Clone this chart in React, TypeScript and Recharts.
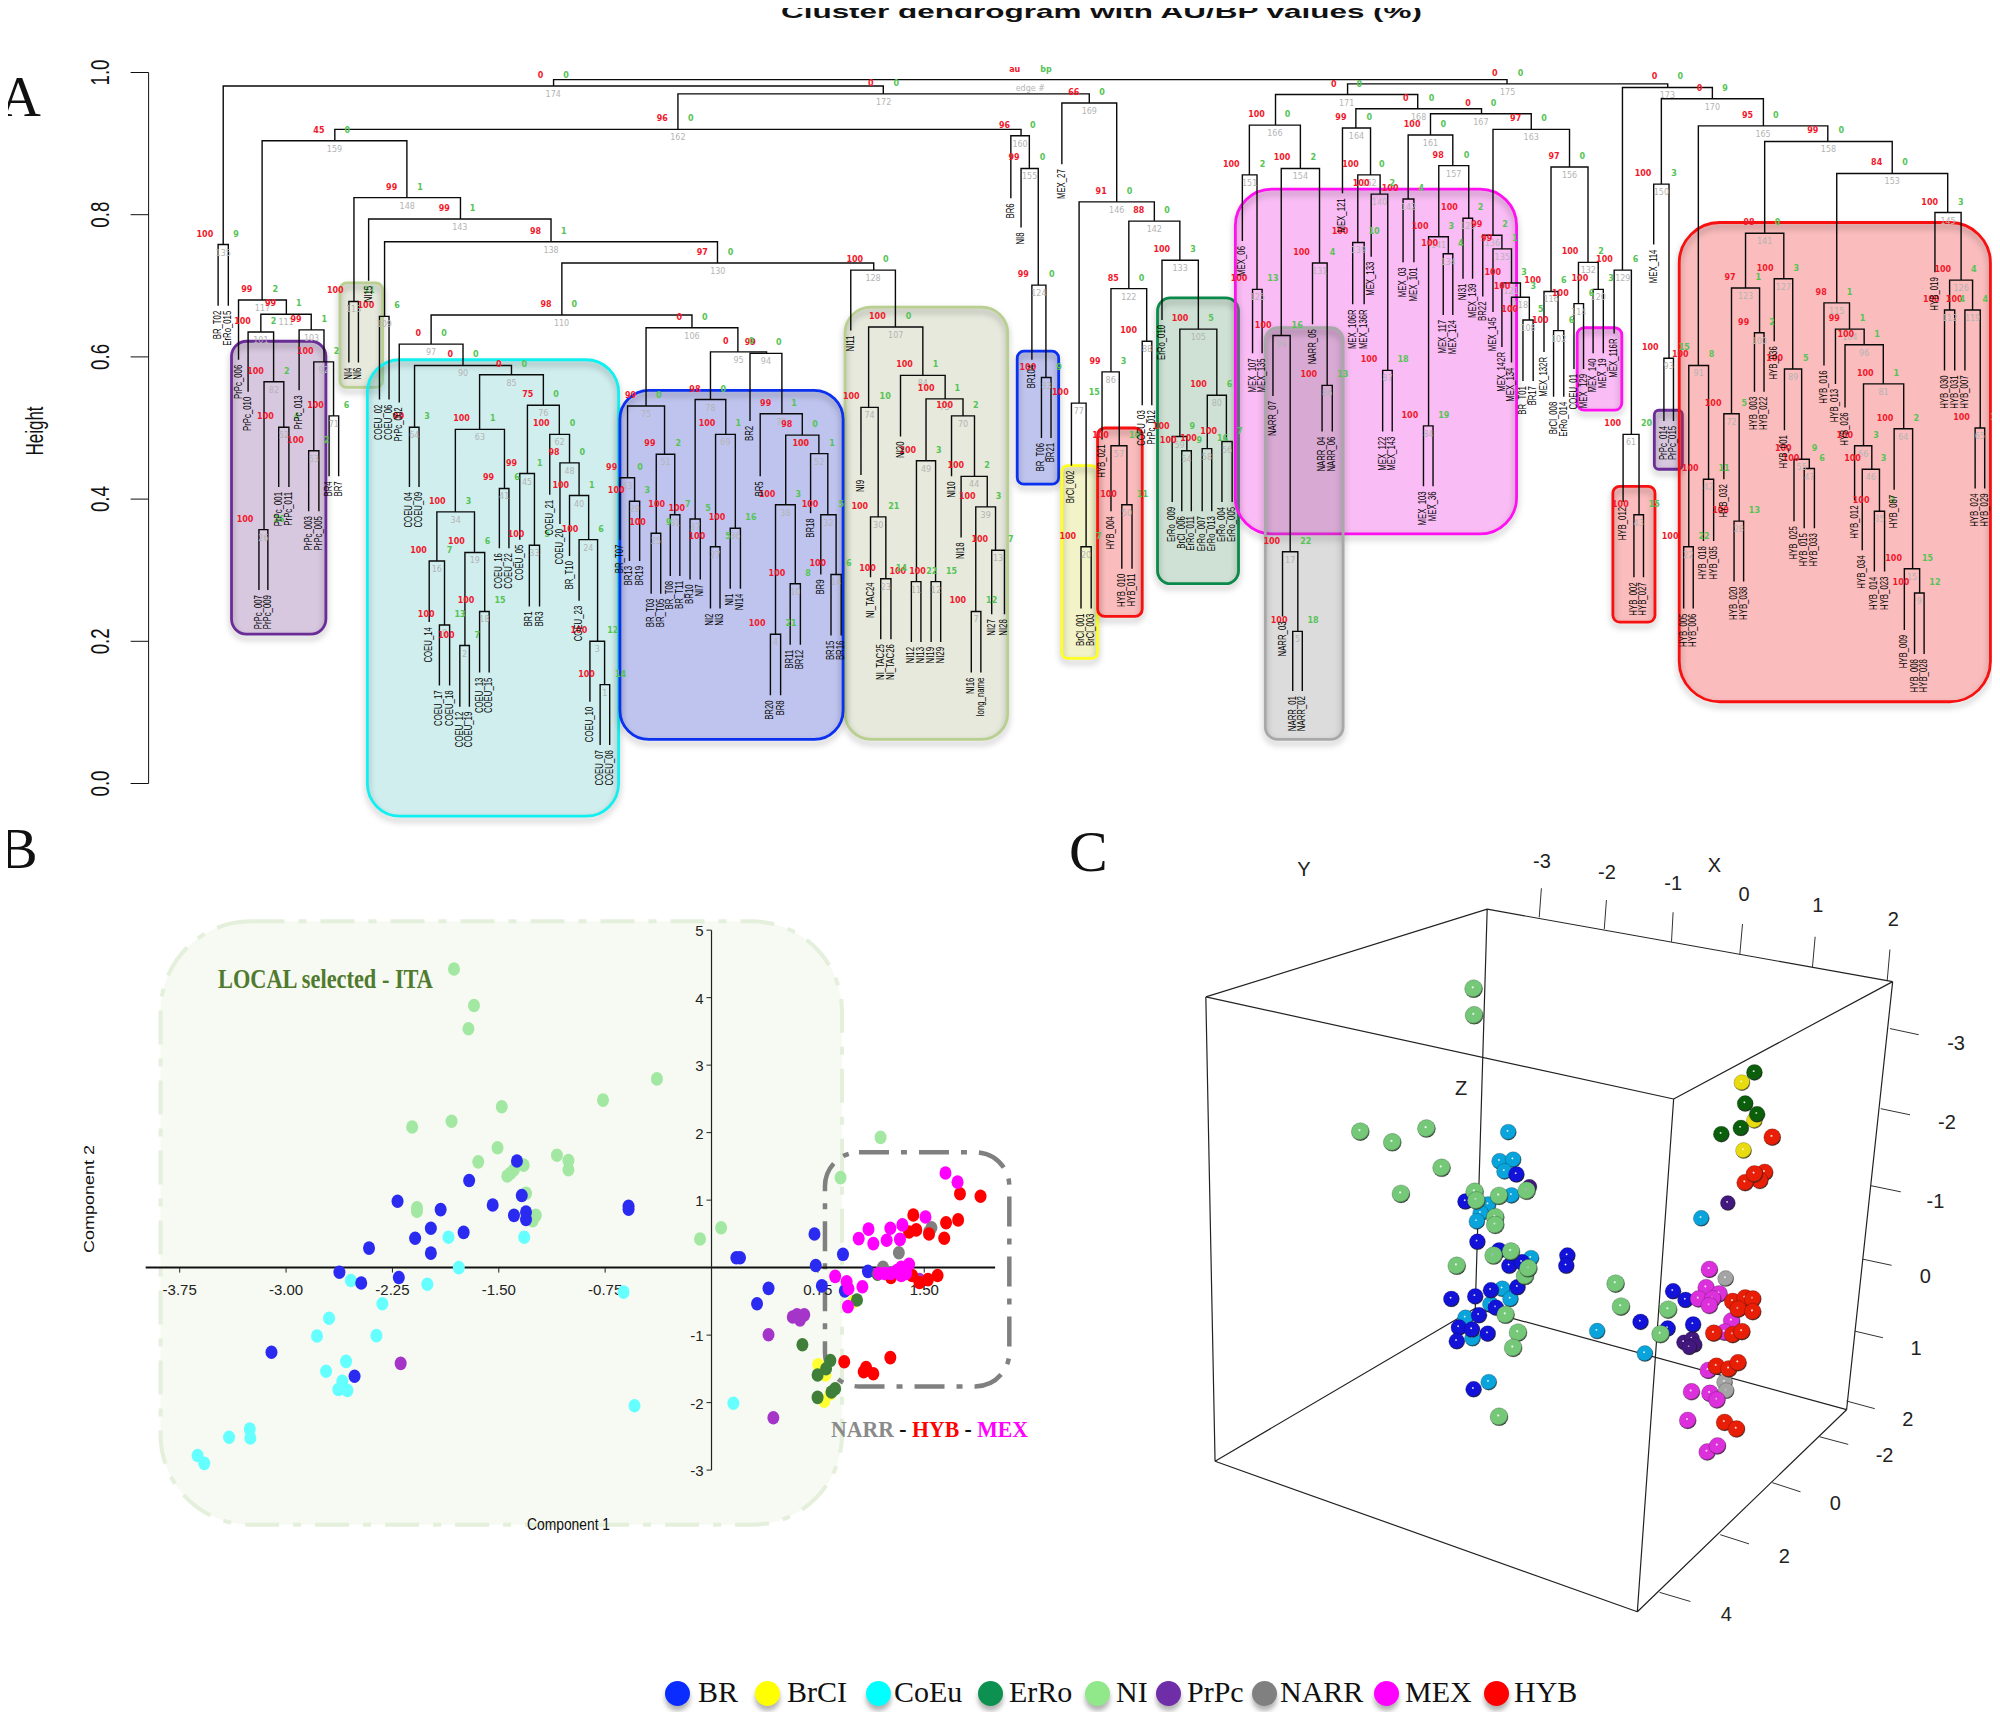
import {
  ComposedChart,
  Line,
  ReferenceArea,
  Scatter,
  XAxis,
  YAxis,
} from "recharts";

// [left, right, height, left leg end, right leg end, au, bp, edge]
type Merge = [number, number, number, number, number, number | string, number | string, number | string];

const trunkMerges: Merge[] = [
  [868, 2363, 0.99, 0.981, 0.984, "au", "bp", "edge #"],
  [2113, 2615, 0.984, 0.969, 0.979, 0, 0, 175],
  [350, 1385, 0.981, 0.758, 0.97, 0, 0, 174],
  [1063, 1708, 0.97, 0.92, 0.957, 0, 0, 172],
  [525, 1601, 0.92, 0.904, 0.911, 96, 0, 162],
  [411, 638, 0.904, 0.68, 0.824, 45, 0, 159],
  [342, 358, 0.758, 0.672, 0.672, 100, 9, 135],
  [555, 722, 0.824, 0.678, 0.794, 99, 1, 148],
  [578, 864, 0.794, 0.707, 0.762, 99, 1, 143],
  [603, 1125, 0.762, 0.657, 0.732, 98, 1, 138],
  [881, 1370, 0.732, 0.659, 0.722, 97, 0, 130],
  [676, 1085, 0.659, 0.618, 0.641, 98, 0, 110],
  [547, 562, 0.678, 0.592, 0.592, 100, 11, 113],
  [595, 610, 0.657, 0.54, 0.54, 100, 6, 109],
];

const prpcMerges: Merge[] = [
  [374, 449, 0.68, 0.596, 0.66, 99, 2, 117],
  [409, 488, 0.66, 0.635, 0.638, 99, 1, 111],
  [389, 429, 0.635, 0.551, 0.565, 100, 2, 101],
  [414, 445, 0.565, 0.357, 0.501, 100, 2, 82],
  [406, 420, 0.357, 0.272, 0.272, 100, 26, 26],
  [437, 453, 0.501, 0.417, 0.417, 100, 4, 52],
  [469, 508, 0.638, 0.553, 0.593, 99, 1, 103],
  [492, 523, 0.593, 0.468, 0.517, 100, 2, 92],
  [484, 500, 0.468, 0.383, 0.383, 100, 2, 53],
  [516, 531, 0.517, 0.432, 0.432, 100, 6, 71],
];

const coeuMerges: Merge[] = [
  [626, 726, 0.618, 0.536, 0.588, 0, 0, 97],
  [650, 802, 0.588, 0.501, 0.575, 0, 0, 90],
  [642, 657, 0.501, 0.417, 0.417, 99, 3, 64],
  [752, 852, 0.575, 0.498, 0.532, 0, 0, 85],
  [714, 791, 0.498, 0.382, 0.415, 100, 1, 63],
  [685, 744, 0.382, 0.313, 0.325, 100, 3, 34],
  [673, 697, 0.313, 0.227, 0.223, 100, 7, 16],
  [689, 705, 0.223, 0.138, 0.138, 100, 13, 8],
  [729, 760, 0.325, 0.194, 0.242, 100, 6, 19],
  [721, 736, 0.194, 0.108, 0.108, 100, 7, 2],
  [752, 767, 0.242, 0.156, 0.156, 100, 15, 18],
  [783, 798, 0.415, 0.331, 0.331, 99, 6, 41],
  [827, 877, 0.532, 0.436, 0.491, 75, 0, 76],
  [815, 838, 0.436, 0.343, 0.335, 99, 1, 45],
  [830, 846, 0.335, 0.249, 0.249, 100, 5, 33],
  [862, 893, 0.491, 0.406, 0.451, 100, 0, 62],
  [878, 908, 0.451, 0.365, 0.405, 98, 0, 48],
  [893, 923, 0.405, 0.32, 0.343, 100, 1, 40],
  [908, 937, 0.343, 0.257, 0.2, 100, 6, 24],
  [925, 948, 0.2, 0.115, 0.139, 100, 12, 3],
  [941, 956, 0.139, 0.054, 0.054, 100, 14, 1],
];

const brMerges: Merge[] = [
  [1013, 1157, 0.641, 0.531, 0.607, 0, 0, 106],
  [984, 1042, 0.531, 0.43, 0.463, 99, 0, 75],
  [972, 995, 0.43, 0.343, 0.397, 99, 0, 43],
  [987, 1003, 0.397, 0.313, 0.313, 100, 3, 29],
  [1029, 1058, 0.463, 0.352, 0.378, 99, 2, 51],
  [1021, 1036, 0.352, 0.267, 0.267, 100, 9, 25],
  [1051, 1066, 0.378, 0.292, 0.292, 100, 7, 31],
  [1114, 1202, 0.607, 0.54, 0.605, 0, 0, 95],
  [1176, 1226, 0.605, 0.51, 0.52, 99, 0, 94],
  [1090, 1138, 0.54, 0.372, 0.491, 98, 0, 78],
  [1082, 1098, 0.372, 0.287, 0.287, 100, 5, 37],
  [1122, 1153, 0.491, 0.333, 0.359, 100, 1, 69],
  [1114, 1129, 0.333, 0.246, 0.246, 100, 5, 27],
  [1145, 1161, 0.359, 0.274, 0.274, 100, 16, 36],
  [1192, 1258, 0.52, 0.432, 0.49, 99, 1, 79],
  [1232, 1284, 0.49, 0.392, 0.464, 98, 0, 68],
  [1271, 1298, 0.464, 0.38, 0.378, 100, 1, 52],
  [1287, 1311, 0.378, 0.294, 0.294, 100, 5, 32],
  [1303, 1319, 0.294, 0.208, 0.208, 100, 6, 14],
  [1216, 1247, 0.392, 0.21, 0.281, 100, 3, 38],
  [1208, 1224, 0.21, 0.124, 0.124, 100, 21, 4],
  [1239, 1255, 0.281, 0.195, 0.195, 100, 8, 10],
];

const niMerges: Merge[] = [
  [1334, 1404, 0.722, 0.637, 0.642, 100, 0, 128],
  [1362, 1447, 0.642, 0.529, 0.574, 100, 0, 107],
  [1350, 1377, 0.529, 0.434, 0.375, 100, 10, 74],
  [1365, 1389, 0.375, 0.29, 0.288, 100, 21, 30],
  [1381, 1397, 0.288, 0.203, 0.203, 100, 14, 23],
  [1412, 1482, 0.574, 0.488, 0.541, 100, 1, 84],
  [1452, 1510, 0.541, 0.454, 0.517, 100, 1, 73],
  [1437, 1467, 0.454, 0.284, 0.284, 100, 3, 49],
  [1429, 1444, 0.284, 0.199, 0.199, 100, 22, 11],
  [1460, 1475, 0.284, 0.199, 0.199, 100, 15, 12],
  [1492, 1528, 0.517, 0.432, 0.432, 100, 2, 70],
  [1507, 1548, 0.432, 0.346, 0.389, 100, 2, 44],
  [1530, 1561, 0.389, 0.242, 0.328, 100, 3, 39],
  [1523, 1538, 0.242, 0.156, 0.156, 100, 12, 7],
  [1555, 1575, 0.328, 0.238, 0.238, 100, 7, 13],
];

const midMerges: Merge[] = [
  [1585, 1614, 0.911, 0.823, 0.865, 96, 0, 160],
  [1601, 1628, 0.865, 0.782, 0.701, 99, 0, 155],
  [1618, 1640, 0.701, 0.596, 0.571, 99, 0, 124],
  [1633, 1648, 0.571, 0.486, 0.486, 100, 9, 83],
  [1665, 1751, 0.957, 0.871, 0.818, 66, 0, 169],
  [1692, 1810, 0.818, 0.535, 0.791, 91, 0, 146],
  [1770, 1850, 0.791, 0.696, 0.736, 88, 0, 142],
  [1742, 1798, 0.696, 0.579, 0.622, 85, 0, 122],
  [1728, 1755, 0.579, 0.484, 0.475, 99, 3, 86],
  [1742, 1767, 0.475, 0.383, 0.392, 100, 10, 57],
  [1759, 1775, 0.392, 0.302, 0.302, 100, 11, 50],
  [1791, 1806, 0.622, 0.532, 0.532, 100, 4, 88],
  [1680, 1703, 0.535, 0.447, 0.333, 100, 15, 77],
  [1695, 1711, 0.333, 0.246, 0.246, 100, 7, 20],
  [1822, 1879, 0.736, 0.652, 0.639, 100, 3, 133],
  [1850, 1908, 0.639, 0.488, 0.546, 100, 5, 105],
  [1838, 1861, 0.488, 0.396, 0.468, 100, 9, 59],
  [1853, 1868, 0.468, 0.383, 0.383, 100, 9, 54],
  [1893, 1923, 0.546, 0.471, 0.481, 100, 6, 80],
  [1885, 1900, 0.471, 0.383, 0.383, 100, 16, 58],
  [1916, 1932, 0.481, 0.396, 0.396, 100, 7, 56],
];

const mexMerges: Merge[] = [
  [2000, 2223, 0.969, 0.926, 0.949, 0, 0, 171],
  [1959, 2039, 0.926, 0.856, 0.865, 100, 0, 166],
  [1948, 1971, 0.856, 0.763, 0.695, 100, 2, 151],
  [1964, 1979, 0.695, 0.605, 0.605, 100, 13, 125],
  [2009, 2069, 0.865, 0.63, 0.732, 100, 2, 154],
  [1996, 2023, 0.63, 0.545, 0.326, 100, 16, 99],
  [2011, 2035, 0.326, 0.235, 0.214, 100, 22, 17],
  [2027, 2042, 0.214, 0.13, 0.13, 100, 18, 5],
  [2058, 2081, 0.732, 0.646, 0.56, 100, 4, 131],
  [2073, 2089, 0.56, 0.495, 0.495, 100, 13, 86],
  [2126, 2323, 0.949, 0.922, 0.942, 0, 0, 168],
  [2105, 2149, 0.922, 0.83, 0.856, 99, 0, 164],
  [2129, 2164, 0.856, 0.761, 0.829, 100, 0, 152],
  [2121, 2139, 0.761, 0.674, 0.674, 100, 10, 139],
  [2150, 2176, 0.829, 0.741, 0.581, 100, 2, 140],
  [2168, 2183, 0.581, 0.495, 0.495, 100, 18, 87],
  [2243, 2401, 0.942, 0.912, 0.92, 0, 0, 167],
  [2341, 2461, 0.92, 0.771, 0.867, 97, 0, 163],
  [2208, 2278, 0.912, 0.822, 0.869, 100, 0, 161],
  [2200, 2217, 0.822, 0.733, 0.733, 100, 4, 142],
  [2256, 2303, 0.869, 0.769, 0.795, 98, 0, 157],
  [2240, 2271, 0.769, 0.503, 0.745, 100, 3, 141],
  [2232, 2247, 0.503, 0.418, 0.418, 100, 19, 84],
  [2263, 2278, 0.745, 0.659, 0.659, 100, 4, 134],
  [2294, 2309, 0.795, 0.71, 0.71, 100, 2, 129],
  [2325, 2355, 0.771, 0.685, 0.752, 99, 2, 136],
  [2341, 2370, 0.752, 0.663, 0.704, 99, 1, 135],
  [2355, 2384, 0.704, 0.614, 0.684, 100, 3, 121],
  [2370, 2398, 0.684, 0.592, 0.652, 100, 3, 118],
  [2388, 2404, 0.652, 0.566, 0.566, 100, 5, 108],
  [2432, 2490, 0.867, 0.692, 0.733, 97, 0, 156],
  [2421, 2443, 0.692, 0.607, 0.637, 100, 6, 116],
  [2436, 2452, 0.637, 0.544, 0.544, 100, 6, 102],
  [2475, 2506, 0.733, 0.675, 0.695, 100, 2, 132],
  [2468, 2483, 0.675, 0.583, 0.583, 100, 6, 114],
  [2498, 2514, 0.695, 0.605, 0.605, 100, 3, 120],
];

const hybMerges: Merge[] = [
  [2544, 2685, 0.979, 0.722, 0.963, 0, 0, 173],
  [2531, 2558, 0.722, 0.633, 0.491, 100, 6, 129],
  [2545, 2570, 0.491, 0.396, 0.378, 100, 20, 61],
  [2562, 2577, 0.378, 0.29, 0.29, 100, 15, 43],
  [2605, 2765, 0.963, 0.843, 0.925, 0, 9, 170],
  [2593, 2617, 0.843, 0.758, 0.598, 100, 3, 150],
  [2609, 2624, 0.598, 0.51, 0.51, 100, 15, 93],
  [2663, 2866, 0.925, 0.588, 0.903, 95, 0, 165],
  [2767, 2967, 0.903, 0.774, 0.858, 99, 0, 158],
  [2880, 3054, 0.858, 0.676, 0.803, 84, 0, 153],
  [2737, 2797, 0.774, 0.697, 0.71, 98, 0, 141],
  [2715, 2759, 0.697, 0.52, 0.634, 97, 1, 123],
  [2703, 2727, 0.52, 0.428, 0.369, 100, 5, 72],
  [2719, 2734, 0.369, 0.284, 0.284, 100, 13, 28],
  [2751, 2766, 0.634, 0.551, 0.551, 99, 2, 100],
  [2782, 2811, 0.71, 0.622, 0.583, 100, 3, 127],
  [2798, 2825, 0.583, 0.497, 0.456, 100, 5, 89],
  [2813, 2837, 0.456, 0.369, 0.443, 100, 9, 55],
  [2829, 2845, 0.443, 0.359, 0.359, 100, 6, 47],
  [2648, 2679, 0.588, 0.333, 0.428, 100, 8, 91],
  [2640, 2655, 0.333, 0.246, 0.246, 100, 22, 22],
  [2671, 2687, 0.428, 0.341, 0.341, 100, 11, 42],
  [2860, 2900, 0.676, 0.588, 0.639, 98, 1, 115],
  [2878, 2923, 0.639, 0.562, 0.617, 99, 1, 104],
  [2893, 2953, 0.617, 0.529, 0.562, 100, 1, 96],
  [2922, 2985, 0.562, 0.475, 0.499, 100, 1, 81],
  [2908, 2935, 0.475, 0.398, 0.442, 100, 3, 66],
  [2920, 2947, 0.442, 0.328, 0.383, 100, 3, 46],
  [2939, 2955, 0.383, 0.298, 0.298, 100, 3, 35],
  [2970, 2999, 0.499, 0.413, 0.302, 100, 2, 64],
  [2986, 3010, 0.302, 0.216, 0.268, 100, 15, 15],
  [3002, 3017, 0.268, 0.182, 0.182, 100, 12, 9],
  [3034, 3075, 0.803, 0.719, 0.708, 100, 3, 145],
  [3057, 3093, 0.708, 0.666, 0.666, 100, 4, 126],
  [3049, 3065, 0.666, 0.581, 0.581, 100, 4, 112],
  [3081, 3105, 0.666, 0.581, 0.5, 100, 4, 119],
  [3097, 3112, 0.5, 0.415, 0.415, 100, 11, 65],
];

const leafLabels: [number, number, string][] = [
  [342, 0.672, "BR_T02"], [358, 0.672, "ErRo_015"], [374, 0.596, "PrPc_006"], [389, 0.551, "PrPc_010"],
  [406, 0.272, "PrPc_007"], [420, 0.272, "PrPc_009"], [437, 0.417, "PrPc_001"], [453, 0.417, "PrPc_011"],
  [469, 0.553, "PrPc_013"], [484, 0.383, "PrPc_003"], [500, 0.383, "PrPc_005"], [516, 0.432, "BR4"],
  [531, 0.432, "BR7"], [547, 0.592, "NI4"], [562, 0.592, "NI6"], [578, 0.707, "NI15"],
  [595, 0.54, "COEU_02"], [610, 0.54, "COEU_06"], [626, 0.536, "PrPc_002"], [642, 0.417, "COEU_04"],
  [657, 0.417, "COEU_09"], [673, 0.227, "COEU_14"], [689, 0.138, "COEU_17"], [705, 0.138, "COEU_18"],
  [721, 0.108, "COEU_12"], [736, 0.108, "COEU_19"], [752, 0.156, "COEU_13"], [767, 0.156, "COEU_15"],
  [783, 0.331, "COEU_16"], [798, 0.331, "COEU_22"], [815, 0.343, "COEU_05"], [830, 0.249, "BR1"],
  [846, 0.249, "BR3"], [862, 0.406, "COEU_21"], [878, 0.365, "COEU_20"], [893, 0.32, "BR_T10"],
  [908, 0.257, "COEU_23"], [925, 0.115, "COEU_10"], [941, 0.054, "COEU_07"], [956, 0.054, "COEU_08"],
  [972, 0.343, "BR_T07"], [987, 0.313, "BR13"], [1003, 0.313, "BR19"], [1021, 0.267, "BR_T03"],
  [1036, 0.267, "BR_T05"], [1051, 0.292, "BR_T08"], [1066, 0.292, "BR_T11"], [1082, 0.287, "BR10"],
  [1098, 0.287, "NI7"], [1114, 0.246, "NI2"], [1129, 0.246, "NI3"], [1145, 0.274, "NI1"],
  [1161, 0.274, "NI14"], [1176, 0.51, "BR2"], [1192, 0.432, "BR5"], [1208, 0.124, "BR20"],
  [1224, 0.124, "BR8"], [1239, 0.195, "BR11"], [1255, 0.195, "BR12"], [1271, 0.38, "BR18"],
  [1287, 0.294, "BR9"], [1303, 0.208, "BR15"], [1319, 0.208, "BR16"], [1334, 0.637, "NI11"],
  [1350, 0.434, "NI9"], [1365, 0.29, "NI_TAC24"], [1381, 0.203, "NI_TAC25"], [1397, 0.203, "NI_TAC26"],
  [1412, 0.488, "NI20"], [1429, 0.199, "NI12"], [1444, 0.199, "NI13"], [1460, 0.199, "NI19"],
  [1475, 0.199, "NI29"], [1492, 0.432, "NI10"], [1507, 0.346, "NI18"], [1523, 0.156, "NI16"],
  [1538, 0.156, "long_name"], [1555, 0.238, "NI27"], [1575, 0.238, "NI28"], [1585, 0.823, "BR6"],
  [1601, 0.782, "NI8"], [1618, 0.596, "BR104"], [1633, 0.486, "BR_T06"], [1648, 0.486, "BR21"],
  [1665, 0.871, "MEX_27"], [1680, 0.447, "BrCl_002"], [1695, 0.246, "BrCl_001"], [1711, 0.246, "BrCl_003"],
  [1728, 0.484, "HYB_021"], [1742, 0.383, "HYB_004"], [1759, 0.302, "HYB_010"], [1775, 0.302, "HYB_011"],
  [1791, 0.532, "COEU_03"], [1806, 0.532, "PrPc_012"], [1822, 0.652, "ErRo_010"], [1838, 0.396, "ErRo_009"],
  [1853, 0.383, "BrCl_006"], [1868, 0.383, "ErRo_011"], [1885, 0.383, "ErRo_007"], [1900, 0.383, "ErRo_013"],
  [1916, 0.396, "ErRo_004"], [1932, 0.396, "ErRo_005"], [1948, 0.763, "MEX_06"], [1964, 0.605, "MEX_107"],
  [1979, 0.605, "MEX_135"], [1996, 0.545, "NARR_07"], [2011, 0.235, "NARR_03"], [2027, 0.13, "NARR_01"],
  [2042, 0.13, "NARR_02"], [2058, 0.646, "NARR_05"], [2073, 0.495, "NARR_04"], [2089, 0.495, "NARR_06"],
  [2105, 0.83, "MEX_121"], [2121, 0.674, "MEX_106R"], [2139, 0.674, "MEX_136R"], [2150, 0.741, "MEX_133"],
  [2168, 0.495, "MEX_122"], [2183, 0.495, "MEX_143"], [2200, 0.733, "MEX_03"], [2217, 0.733, "MEX_101"],
  [2232, 0.418, "MEX_103"], [2247, 0.418, "MEX_36"], [2263, 0.659, "MEX_117"], [2278, 0.659, "MEX_124"],
  [2294, 0.71, "NI31"], [2309, 0.71, "MEX_139"], [2325, 0.685, "BR22"], [2341, 0.663, "MEX_145"],
  [2355, 0.614, "MEX_142R"], [2370, 0.592, "MEX_134"], [2388, 0.566, "BR_T01"], [2404, 0.566, "BR17"],
  [2421, 0.607, "MEX_132R"], [2436, 0.544, "BrCl_008"], [2452, 0.544, "ErRo_014"], [2468, 0.583, "COEU_01"],
  [2483, 0.583, "MEX_129"], [2498, 0.605, "MEX_140"], [2514, 0.605, "MEX_19"], [2531, 0.633, "MEX_116R"],
  [2545, 0.396, "HYB_012"], [2562, 0.29, "HYB_002"], [2577, 0.29, "HYB_027"], [2593, 0.758, "MEX_114"],
  [2609, 0.51, "PrPc_014"], [2624, 0.51, "PrPc_015"], [2640, 0.246, "HYB_005"], [2655, 0.246, "HYB_006"],
  [2671, 0.341, "HYB_018"], [2687, 0.341, "HYB_035"], [2703, 0.428, "HYB_032"], [2719, 0.284, "HYB_020"],
  [2734, 0.284, "HYB_038"], [2751, 0.551, "HYB_003"], [2766, 0.551, "HYB_022"], [2782, 0.622, "HYB_036"],
  [2798, 0.497, "HYB_001"], [2813, 0.369, "HYB_025"], [2829, 0.359, "HYB_015"], [2845, 0.359, "HYB_033"],
  [2860, 0.588, "HYB_016"], [2878, 0.562, "HYB_013"], [2893, 0.529, "HYB_026"], [2908, 0.398, "HYB_012"],
  [2920, 0.328, "HYB_034"], [2939, 0.298, "HYB_014"], [2955, 0.298, "HYB_023"], [2970, 0.413, "HYB_087"],
  [2986, 0.216, "HYB_009"], [3002, 0.182, "HYB_008"], [3017, 0.182, "HYB_028"], [3034, 0.719, "HYB_019"],
  [3049, 0.581, "HYB_030"], [3065, 0.581, "HYB_031"], [3081, 0.581, "HYB_007"], [3097, 0.415, "HYB_024"],
  [3112, 0.415, "HYB_029"],
];

// [left, right, top, bottom, group]
const clusterBoxes: [number, number, number, number, string][] = [
  [1325, 1580, 0.67, 0.062, "NI"],
  [533, 600, 0.704, 0.557, "NI"],
  [363, 511, 0.622, 0.21, "PrPc"],
  [576, 970, 0.596, -0.046, "CoEu"],
  [972, 1322, 0.553, 0.062, "BR"],
  [1595, 1660, 0.608, 0.421, "BR"],
  [1665, 1721, 0.447, 0.176, "BrCl"],
  [1721, 1791, 0.5, 0.235, "HYB"],
  [1815, 1942, 0.683, 0.281, "ErRo"],
  [1937, 2378, 0.836, 0.351, "MEX"],
  [1984, 2106, 0.641, 0.062, "NARR"],
  [2473, 2543, 0.641, 0.525, "MEX"],
  [2594, 2638, 0.525, 0.442, "PrPc"],
  [2529, 2595, 0.418, 0.227, "HYB"],
  [2633, 3121, 0.789, 0.115, "HYB"],
];

const boxStroke: Record<string, string> = {
  NI: "#b9cf90", PrPc: "#6a2c96", CoEu: "#10f0f0", BR: "#0a30f0", BrCl: "#ffff20",
  HYB: "#f81010", ErRo: "#0a8a4a", MEX: "#ff10f0", NARR: "#a8a8a8",
};
const boxFill: Record<string, string> = {
  NI: "rgba(150,165,110,0.24)", PrPc: "rgba(100,40,130,0.26)", CoEu: "rgba(60,185,185,0.24)",
  BR: "rgba(40,60,200,0.3)", BrCl: "rgba(225,225,120,0.4)", HYB: "rgba(240,60,60,0.34)",
  ErRo: "rgba(30,120,60,0.22)", MEX: "rgba(240,80,225,0.38)", NARR: "rgba(110,110,110,0.24)",
};

const heightTicks = [0, 0.2, 0.4, 0.6, 0.8, 1];

// panel B, principal components
const pcaNI = [
  [-1.816, 4.424], [-1.675, 3.883], [-1.714, 3.539], [-0.385, 2.796], [-0.765, 2.482], [-1.479, 2.384],
  [-1.833, 2.169], [-2.111, 2.083], [-1.509, 1.776], [-1.645, 1.567], [-1.09, 1.665], [-1.009, 1.585],
  [-1.009, 1.45], [-1.325, 1.518], [-1.393, 1.45], [-1.415, 1.401], [-1.44, 1.358], [-1.308, 1.1],
  [-2.077, 0.885], [-2.077, 0.836], [-1.239, 0.774], [-1.261, 0.694], [1.192, 1.929], [0.91, 1.333],
  [0.068, 0.59], [-0.081, 0.424],
];
const pcaBR = [
  [-1.372, 1.579], [-1.709, 1.29], [-2.214, 0.983], [-1.91, 0.86], [-1.543, 0.928], [-1.338, 1.069],
  [-1.393, 0.774], [-1.308, 0.823], [-1.308, 0.713], [-1.979, 0.584], [-1.748, 0.522], [-2.09, 0.436],
  [-2.415, 0.289], [-1.979, 0.215], [-0.585, 0.909], [-0.585, 0.866], [-2.624, -0.068], [-2.47, -0.227],
  [-2.205, -0.147], [-3.103, -1.253], [-2.517, -1.61], [0.175, 0.147], [0.201, 0.147], [0.402, -0.307],
  [0.321, -0.535], [0.726, 0.498], [0.735, 0.031], [0.927, 0.197], [0.778, -0.27], [0.94, -0.344],
  [1.103, -0.055],
];
const pcaCoEu = [
  [-1.855, 0.449], [-1.321, 0.449], [-1.782, 0], [-2.543, -0.19], [-2.004, -0.246], [-2.321, -0.535],
  [-2.697, -0.75], [-2.782, -1.014], [-2.363, -1.008], [-2.718, -1.536], [-2.577, -1.389], [-2.603, -1.684],
  [-2.632, -1.806], [-2.568, -1.819], [-3.256, -2.39], [-3.252, -2.525], [-3.402, -2.513], [-3.624, -2.783],
  [-3.577, -2.9], [-0.62, -0.363], [-0.543, -2.046], [0.154, -2.009],
];
const pcaPrPc = [
  [-2.192, -1.419], [0.402, -0.995], [0.436, -2.224], [0.573, -0.731], [0.603, -0.7], [0.624, -0.774],
  [0.654, -0.7], [1.466, -0.178],
];
const pcaBrCl = [[0.752, -1.438], [0.803, -1.591], [0.795, -1.979], [0.838, -1.868], [1.0, -0.504]];
const pcaErRo = [
  [1.026, -0.479], [0.641, -1.143], [0.838, -1.376], [0.808, -1.499], [0.748, -1.591], [0.748, -1.923],
  [0.846, -1.843], [0.872, -1.794], [1.171, -0.098],
];
const pcaNARR = [[1.551, 0.59], [1.534, 0.528], [1.321, 0.221], [1.209, 0.006]];
const pcaHYB = [
  [1.752, 1.094], [1.897, 1.057], [1.423, 0.78], [1.739, 0.707], [1.654, 0.664], [1.393, 0.528],
  [1.444, 0.559], [1.534, 0.498], [1.641, 0.436], [0.936, -1.395], [1.073, -1.542], [1.09, -1.481],
  [1.141, -1.573], [1.261, -1.333], [1.594, -0.117], [1.526, -0.178], [1.466, -0.221], [1.265, -0.147],
  [1.415, -0.117],
];
const pcaMEX = [
  [1.65, 1.401], [1.735, 1.266], [1.509, 0.75], [1.346, 0.633], [1.261, 0.584], [1.107, 0.571],
  [1.038, 0.43], [1.141, 0.356], [1.235, 0.406], [1.329, 0.418], [0.872, -0.129], [0.953, -0.209],
  [0.966, -0.313], [1.064, -0.283], [0.962, -0.578], [1.179, -0.086], [1.222, -0.086], [1.265, -0.086],
  [1.308, -0.043], [1.338, 0.006], [1.393, 0.049], [1.372, -0.086], [1.338, -0.117],
];
const pcaXTicks = [-3.75, -3, -2.25, -1.5, -0.75, 0.75, 1.5];
const pcaYTicks = [-3, -2, -1, 1, 2, 3, 4, 5];

// panel C, projected position on the page of the 3D view
const cubeEdges = [
  [[622, 116], [1370, 258]], [[622, 116], [103, 288]], [[103, 288], [966, 488]], [[1370, 258], [966, 488]],
  [[103, 288], [120, 1198]], [[966, 488], [899, 1493]], [[1370, 258], [1285, 1097]], [[622, 116], [600, 898]],
  [[120, 1198], [899, 1493]], [[899, 1493], [1285, 1097]], [[120, 1198], [600, 898]], [[600, 898], [1285, 1097]],
];
const cubeTicks = [
  [[718, 132], [722, 75]], [[838, 155], [842, 98]], [[962, 180], [965, 122]], [[1088, 205], [1093, 145]],
  [[1222, 230], [1227, 170]], [[1360, 255], [1365, 195]],
  [[1365, 350], [1418, 362]], [[1348, 507], [1402, 519]], [[1330, 658], [1385, 670]], [[1315, 802], [1368, 814]],
  [[1300, 943], [1352, 956]], [[1285, 1080], [1337, 1095]],
  [[1235, 1150], [1288, 1165]], [[1148, 1240], [1200, 1258]], [[1052, 1342], [1105, 1360]], [[940, 1455], [997, 1473]],
];
const cubeLabels: [number, number, string][] = [
  [723, 22, "-3"], [843, 44, "-2"], [965, 64, "-1"], [1096, 87, "0"], [1232, 108, "1"], [1371, 135, "2"],
  [1487, 378, "-3"], [1470, 533, "-2"], [1449, 687, "-1"], [1430, 834, "0"], [1413, 976, "1"], [1398, 1115, "2"],
  [1355, 1185, "-2"], [1264, 1280, "0"], [1170, 1383, "2"], [1063, 1498, "4"],
  [1041, 30, "X"], [284, 37, "Y"], [574, 467, "Z"],
];
const cubeBR = [
  [676, 636], [582, 689], [604, 768], [644, 785], [663, 815], [686, 808], [770, 795], [768, 815], [556, 880],
  [600, 875], [629, 863], [678, 857], [638, 897], [607, 912], [570, 936], [594, 940], [623, 948], [566, 963],
  [597, 1057], [905, 925], [965, 865], [988, 882], [955, 938], [1002, 930],
];
const cubeCoEu = [
  [661, 553], [645, 610], [670, 607], [654, 630], [667, 677], [624, 695], [610, 712], [603, 728], [703, 800],
  [650, 860], [665, 880], [628, 890], [582, 917], [595, 957], [625, 1043], [825, 943], [913, 987], [1017, 722],
];
const cubeNI = [
  [597, 272], [598, 324], [388, 552], [447, 573], [510, 546], [538, 623], [463, 674], [599, 670], [602, 687],
  [644, 678], [695, 668], [637, 720], [637, 735], [634, 795], [666, 787], [566, 815], [692, 835], [698, 820],
  [859, 850], [869, 895], [956, 901], [942, 949], [656, 911], [679, 946], [670, 976], [644, 1111],
];
const cubeErRo = [[1115, 436], [1098, 497], [1120, 518], [1090, 545], [1054, 557]];
const cubeBrCl = [[1092, 456], [1115, 530], [1095, 589]];
const cubePrPc = [[1066, 692], [700, 660], [985, 965], [1000, 958], [1005, 970], [995, 975]];
const cubeNARR = [[1062, 840], [1060, 1043], [1063, 1060]];
const cubeMEX = [
  [1032, 822], [1026, 858], [1012, 880], [1050, 870], [1038, 880], [1032, 893], [1073, 923], [1060, 945],
  [1030, 1020], [999, 1062], [1033, 1065], [1046, 1078], [992, 1118], [1028, 1180], [1047, 1168],
];
const cubeHYB = [
  [1148, 563], [1134, 632], [1125, 648], [1098, 652], [1115, 635], [1075, 885], [1098, 878], [1112, 880],
  [1085, 900], [1112, 905], [1040, 947], [1075, 950], [1092, 944], [1045, 1012], [1068, 1017], [1085, 1005],
  [1060, 1122], [1082, 1135],
];

const legendNames = ["BR", "BrCI", "CoEu", "ErRo", "NI", "PrPc", "NARR", "MEX", "HYB"];
const legendColors = ["#0a2cff", "#ffff00", "#00ffff", "#0d9150", "#90e88a", "#6f2da8", "#808080", "#ff00ff", "#ff0000"];
const legendMarkerX = [677, 767, 878, 990, 1097, 1168, 1264, 1386, 1496];
const legendTextX = [698, 787, 894, 1009, 1116, 1187, 1280, 1405, 1514];

const allMerges = [...trunkMerges, ...prpcMerges, ...coeuMerges, ...brMerges, ...niMerges, ...midMerges, ...mexMerges, ...hybMerges];

const treePath = allMerges.flatMap(([l, r, top, bl, br]) => [
  { x: l, y: bl },
  { x: l, y: top },
  { x: r, y: top },
  { x: r, y: br },
  { x: r, y: null },
]);
const nodeLabels = allMerges.map(([l, r, top, , , au, bp, edge]) => ({ x: (l + r) / 2, y: top, au, bp, edge }));
const leafData = leafLabels.map(([x, y, name]) => ({ x, y, name }));

const toPoints = (rows: number[][]) => rows.map(([x, y]) => ({ x, y }));
const toSegments = (rows: number[][][]) =>
  rows.flatMap(([a, b]) => [
    { x: a[0], y: a[1] },
    { x: b[0], y: b[1] },
    { x: b[0], y: null },
  ]);

const SANS = "Liberation Sans";
const SERIF = "Liberation Serif";

const nodeText = (key: "au" | "bp" | "edge") => (p: any) => {
  const cfg = {
    au: { dx: -10, dy: -8, anchor: "end", fill: "#f2182c", weight: 700 },
    bp: { dx: 10, dy: -8, anchor: "start", fill: "#55c455", weight: 700 },
    edge: { dx: 0, dy: 11, anchor: "middle", fill: "#b4b4b4", weight: 400 },
  }[key];
  return (
    <text
      x={p.cx + cfg.dx}
      y={p.cy + cfg.dy}
      textAnchor={cfg.anchor}
      fontFamily="DejaVu Sans"
      fontWeight={cfg.weight}
      fontSize={8}
      fill={cfg.fill}
    >
      {p.payload[key]}
    </text>
  );
};

const leafText = (p: any) => (
  <text
    transform={`translate(${p.cx + 3},${p.cy + 5}) rotate(-90) scale(0.78,1)`}
    textAnchor="end"
    fontFamily={SANS}
    fontSize={10}
    fill="#000"
  >
    {p.payload.name}
  </text>
);

const heightTick = (p: any) => (
  <text
    transform={`translate(${p.x - 20},${p.y}) rotate(-90) scale(0.75,1)`}
    textAnchor="middle"
    fontFamily={SANS}
    fontSize={25}
    fill="#111"
  >
    {p.payload.value.toFixed(1)}
  </text>
);

const roundedBox = (group: string, w: number) => (p: any) => {
  const radius = Math.min(p.width, p.height) * (w > 300 ? 0.13 : 0.16);
  return (
    <g>
      <rect x={p.x} y={p.y} width={p.width} height={p.height} rx={radius} fill={boxFill[group]} />
      <rect
        x={p.x}
        y={p.y}
        width={p.width}
        height={p.height}
        rx={radius}
        fill="none"
        stroke={boxStroke[group]}
        strokeWidth={2.8}
        style={{ filter: "drop-shadow(0 4px 3px rgba(0,0,0,0.3))" }}
      />
    </g>
  );
};

function Dendrogram() {
  return (
    <div style={{ position: "absolute", left: 0, top: 0 }}>
      <ComposedChart
        width={2000}
        height={840}
        margin={{ top: 72.5, right: 0, bottom: 56.5, left: 0 }}
      >
        <XAxis type="number" dataKey="x" domain={[233, 3136]} hide />
        <YAxis
          type="number"
          dataKey="y"
          domain={[0, 1]}
          ticks={heightTicks}
          width={148.6}
          tickSize={18}
          tick={heightTick}
          stroke="#111"
        />
        <Line
          data={treePath}
          dataKey="y"
          stroke="#0a0a0a"
          strokeWidth={1.4}
          dot={false}
          activeDot={false}
          connectNulls={false}
          isAnimationActive={false}
        />
        <Scatter data={nodeLabels} shape={nodeText("edge")} isAnimationActive={false} />
        <Scatter data={nodeLabels} shape={nodeText("au")} isAnimationActive={false} />
        <Scatter data={nodeLabels} shape={nodeText("bp")} isAnimationActive={false} />
        <Scatter data={leafData} shape={leafText} isAnimationActive={false} />
        {clusterBoxes.map(([x1, x2, y1, y2, group]) => (
          <ReferenceArea
            key={`${group}-${x1}`}
            x1={x1}
            x2={x2}
            y1={y1}
            y2={y2}
            ifOverflow="visible"
            shape={roundedBox(group, x2 - x1)}
          />
        ))}
        <text
          x={781}
          y={18}
          textLength={641}
          lengthAdjust="spacingAndGlyphs"
          fontFamily={SANS}
          fontWeight={700}
          fontSize={19}
          fill="#111"
        >
          Cluster dendrogram with AU/BP values (%)
        </text>
        <text
          transform="translate(43,431) rotate(-90) scale(0.85,1.2)"
          textAnchor="middle"
          fontFamily={SANS}
          fontSize={20}
          fill="#111"
        >
          Height
        </text>
      </ComposedChart>
    </div>
  );
}

const dot = (fill: string) => (p: any) => <ellipse cx={p.cx} cy={p.cy} rx={6} ry={6.8} fill={fill} />;

const pcaXTick = (p: any) => (
  <g>
    <line x1={p.cx} x2={p.cx} y1={p.cy} y2={p.cy + 5} stroke="#222" />
    <text x={p.cx} y={p.cy + 27} textAnchor="middle" fontFamily={SANS} fontSize={15} fill="#222">
      {p.payload.x.toFixed(2)}
    </text>
  </g>
);
const pcaYTick = (p: any) => (
  <g>
    <line x1={p.cx - 5} x2={p.cx} y1={p.cy} y2={p.cy} stroke="#222" />
    <text x={p.cx - 8} y={p.cy + 6} textAnchor="end" fontFamily={SANS} fontSize={15} fill="#222">
      {p.payload.y}
    </text>
  </g>
);
const dashedBox = (stroke: string, fill: string, dash: string, width: number, radius: number) => (p: any) => (
  <rect
    x={p.x}
    y={p.y}
    width={p.width}
    height={p.height}
    rx={radius}
    fill={fill}
    stroke={stroke}
    strokeWidth={width}
    strokeDasharray={dash}
  />
);

const localLabel = (p: any) => (
  <text
    x={p.cx}
    y={p.cy}
    textLength={215}
    lengthAdjust="spacingAndGlyphs"
    fontFamily={SERIF}
    fontWeight={700}
    fontSize={27}
    fill="#4f7a2f"
  >
    LOCAL selected - ITA
  </text>
);
const groupLabel = (p: any) => (
  <text
    x={p.cx}
    y={p.cy}
    textLength={197}
    lengthAdjust="spacingAndGlyphs"
    fontFamily={SERIF}
    fontWeight={700}
    fontSize={23}
  >
    <tspan fill="#8a8a8a">NARR</tspan>
    <tspan fill="#111"> - </tspan>
    <tspan fill="#ff0000">HYB</tspan>
    <tspan fill="#111"> - </tspan>
    <tspan fill="#ff00ff">MEX</tspan>
  </text>
);
const componentLabel = (p: any) => (
  <text
    x={p.cx}
    y={p.cy}
    textLength={83}
    lengthAdjust="spacingAndGlyphs"
    fontFamily={SANS}
    fontSize={16}
    fill="#111"
  >
    Component 1
  </text>
);

function PcaPlot() {
  return (
    <div style={{ position: "absolute", left: 0, top: 880 }}>
      <ComposedChart
        width={1100}
        height={680}
        margin={{ top: 16.4, right: 76.5, bottom: 22.4, left: 115.9 }}
      >
        <XAxis type="number" dataKey="x" domain={[-4.2, 2.2]} hide />
        <YAxis type="number" dataKey="y" domain={[-4, 5.5]} hide />
        <ReferenceArea
          x1={-3.885}
          x2={0.92}
          y1={5.13}
          y2={-3.81}
          ifOverflow="visible"
          shape={dashedBox("#e4efdc", "#f7faf2", "34 14 8 14", 4, 90)}
        />
        <Line
          data={[{ x: -3.99, y: 0 }, { x: 2.0, y: 0 }]}
          dataKey="y"
          stroke="#111"
          strokeWidth={2}
          dot={false}
          activeDot={false}
          isAnimationActive={false}
        />
        <Line
          data={[{ x: 0, y: -3 }, { x: 0, y: 5 }]}
          dataKey="y"
          stroke="#222"
          strokeWidth={1.2}
          dot={false}
          activeDot={false}
          isAnimationActive={false}
        />
        <Scatter data={pcaXTicks.map((x) => ({ x, y: 0 }))} shape={pcaXTick} isAnimationActive={false} />
        <Scatter data={pcaYTicks.map((y) => ({ x: 0, y }))} shape={pcaYTick} isAnimationActive={false} />
        <Scatter data={toPoints(pcaNI)} shape={dot("#a2e8a2")} isAnimationActive={false} />
        <Scatter data={toPoints(pcaCoEu)} shape={dot("#66ffff")} isAnimationActive={false} />
        <Scatter data={toPoints(pcaBR)} shape={dot("#2a2af0")} isAnimationActive={false} />
        <Scatter data={toPoints(pcaPrPc)} shape={dot("#a535c8")} isAnimationActive={false} />
        <Scatter data={toPoints(pcaBrCl)} shape={dot("#ffff33")} isAnimationActive={false} />
        <Scatter data={toPoints(pcaErRo)} shape={dot("#3f7f3a")} isAnimationActive={false} />
        <Scatter data={toPoints(pcaNARR)} shape={dot("#808080")} isAnimationActive={false} />
        <Scatter data={toPoints(pcaHYB)} shape={dot("#ff0000")} isAnimationActive={false} />
        <Scatter data={toPoints(pcaMEX)} shape={dot("#ff00ff")} isAnimationActive={false} />
        <ReferenceArea
          x1={0.8}
          x2={2.1}
          y1={1.71}
          y2={-1.76}
          ifOverflow="visible"
          shape={dashedBox("#808080", "none", "30 12 6 12", 4.5, 34)}
        />
        <Scatter data={[{ x: -3.48, y: 4.14 }]} shape={localLabel} isAnimationActive={false} />
        <Scatter data={[{ x: 0.843, y: -2.51 }]} shape={groupLabel} isAnimationActive={false} />
        <Scatter data={[{ x: -1.301, y: -3.887 }]} shape={componentLabel} isAnimationActive={false} />
        <text
          transform="translate(94,319) rotate(-90)"
          textAnchor="middle"
          textLength={108}
          lengthAdjust="spacingAndGlyphs"
          fontFamily={SANS}
          fontSize={14}
          fill="#111"
        >
          Component 2
        </text>
      </ComposedChart>
    </div>
  );
}

const sphereColors: Record<string, string> = {
  BR: "#1212d8",
  CoEu: "#0aa4dc",
  NI: "#74c878",
  ErRo: "#0b5e0b",
  BrCl: "#e8dc10",
  PrPc: "#43187e",
  NARR: "#a4a4a4",
  MEX: "#dc30dc",
  HYB: "#e81e06",
};

const sphere = (group: string, r: number) => (p: any) => (
  <circle cx={p.cx} cy={p.cy} r={r} fill={`url(#sphere-${group})`} stroke="#00000055" strokeWidth={0.6} />
);

const cubeText = (p: any) => (
  <text
    x={p.cx}
    y={p.cy + 7}
    textAnchor="middle"
    fontFamily={SANS}
    fontSize={20}
    fill="#222"
  >
    {p.payload.label}
  </text>
);

function CubePlot() {
  return (
    <div style={{ position: "absolute", left: 1150, top: 850 }}>
      <ComposedChart width={850} height={800} margin={{ top: 0, right: 0, bottom: 0, left: 0 }}>
        <defs>
          {Object.entries(sphereColors).map(([group, color]) => (
            <radialGradient key={group} id={`sphere-${group}`} cx="45%" cy="42%" r="60%">
              <stop offset="0%" stopColor="#ffffff" stopOpacity={0.55} />
              <stop offset="14%" stopColor={color} />
              <stop offset="78%" stopColor={color} />
              <stop offset="100%" stopColor="#222" />
            </radialGradient>
          ))}
        </defs>
        <XAxis type="number" dataKey="x" domain={[0, 1568]} hide />
        <YAxis type="number" dataKey="y" domain={[0, 1568]} reversed hide />
        <Line
          data={toSegments(cubeEdges)}
          dataKey="y"
          stroke="#222"
          strokeWidth={1.2}
          dot={false}
          activeDot={false}
          connectNulls={false}
          isAnimationActive={false}
        />
        <Line
          data={toSegments(cubeTicks)}
          dataKey="y"
          stroke="#333"
          strokeWidth={1}
          dot={false}
          activeDot={false}
          connectNulls={false}
          isAnimationActive={false}
        />
        <Scatter
          data={cubeLabels.map(([x, y, label]) => ({ x, y, label }))}
          shape={cubeText}
          isAnimationActive={false}
        />
        <Scatter data={toPoints(cubeCoEu)} shape={sphere("CoEu", 8)} isAnimationActive={false} />
        <Scatter data={toPoints(cubePrPc)} shape={sphere("PrPc", 7.5)} isAnimationActive={false} />
        <Scatter data={toPoints(cubeBR)} shape={sphere("BR", 8)} isAnimationActive={false} />
        <Scatter data={toPoints(cubeNI)} shape={sphere("NI", 9)} isAnimationActive={false} />
        <Scatter data={toPoints(cubeBrCl)} shape={sphere("BrCl", 8)} isAnimationActive={false} />
        <Scatter data={toPoints(cubeErRo)} shape={sphere("ErRo", 8)} isAnimationActive={false} />
        <Scatter data={toPoints(cubeNARR)} shape={sphere("NARR", 8)} isAnimationActive={false} />
        <Scatter data={toPoints(cubeMEX)} shape={sphere("MEX", 8.5)} isAnimationActive={false} />
        <Scatter data={toPoints(cubeHYB)} shape={sphere("HYB", 8.5)} isAnimationActive={false} />
      </ComposedChart>
    </div>
  );
}

const panelLetter = (letter: string, left: number, top: number) => (
  <div
    style={{
      position: "absolute",
      left,
      top,
      fontFamily: SERIF,
      fontSize: 58,
      lineHeight: "58px",
      color: "#111",
    }}
  >
    {letter}
  </div>
);

export default function App() {
  return (
    <div style={{ position: "relative", width: 2000, height: 1720, margin: -8, background: "#fff", overflow: "hidden" }}>
      <Dendrogram />
      <PcaPlot />
      <CubePlot />
      {panelLetter("A", -1, 68)}
      {panelLetter("B", -1, 820)}
      {panelLetter("C", 1069, 823)}
      {legendNames.map((name, i) => (
        <div key={name}>
          <div
            style={{
              position: "absolute",
              left: legendMarkerX[i] - 12.5,
              top: 1681,
              width: 25,
              height: 25,
              borderRadius: "50%",
              background: legendColors[i],
              boxShadow: "0 5px 5px rgba(0,0,0,0.3)",
            }}
          />
          <div
            style={{
              position: "absolute",
              left: legendTextX[i],
              top: 1674,
              fontFamily: SERIF,
              fontSize: 30,
              lineHeight: "36px",
              color: "#111",
            }}
          >
            {name}
          </div>
        </div>
      ))}
    </div>
  );
}
